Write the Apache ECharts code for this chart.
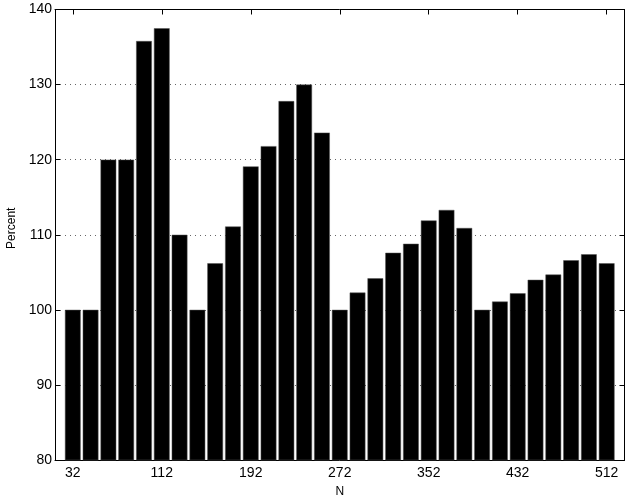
<!DOCTYPE html>
<html>
<head>
<meta charset="utf-8">
<script src="https://cdn.jsdelivr.net/npm/echarts@6/dist/echarts.min.js"></script>
<style>
html,body{margin:0;padding:0;background:#fff;}
#c{width:625px;height:497px;}
</style>
</head>
<body>
<div id="c"></div>
<script>
const nValues = [32,48,64,80,96,112,128,144,160,176,192,208,224,240,256,272,288,304,320,336,352,368,384,400,416,432,448,464,480,496,512];
const percent = [100,100,120,120,135.8,137.5,110,100,106.2,111.1,119.1,121.8,127.8,130,123.6,100,102.3,104.2,107.6,108.8,111.9,113.3,110.9,100,101.1,102.2,104,104.7,106.6,107.4,106.2];
const xTicks = [32,112,192,272,352,432,512];
const yTicks = [80,90,100,110,120,130,140];

const font = 'Liberation Sans, Arial, Helvetica, sans-serif';
const chart = echarts.init(document.getElementById('c'), null, {renderer:'canvas'});
const axisLineStyle = {color:'#000', width:1};
chart.setOption({
  animation:false,
  backgroundColor:'#fff',
  grid:{left:55, right:0.5, top:9.5, bottom:37, containLabel:false, outerBoundsMode:'none'},
  xAxis:[{
    type:'value', min:16, max:528, position:'bottom',
    name:'N', nameLocation:'middle', nameGap:26,
    nameTextStyle:{color:'#000', fontSize:12, fontFamily:font},
    axisLine:{show:true, onZero:false, lineStyle:axisLineStyle},
    axisTick:{show:true, inside:true, length:5, customValues:xTicks, lineStyle:axisLineStyle},
    axisLabel:{show:true, customValues:xTicks, color:'#000', fontSize:14, fontFamily:font, margin:6},
    splitLine:{show:false}
  },{
    type:'value', min:16, max:528, position:'top',
    axisLine:{show:true, onZero:false, lineStyle:axisLineStyle},
    axisTick:{show:true, inside:true, length:5, customValues:xTicks, lineStyle:axisLineStyle},
    axisLabel:{show:false, customValues:xTicks},
    splitLine:{show:false}
  }],
  yAxis:[{
    type:'value', min:80, max:140, interval:10, position:'left',
    name:'Percent', nameLocation:'middle', nameGap:29,
    nameTextStyle:{color:'#000', fontSize:12, fontFamily:font, padding:[0,0,0,13]},
    axisLine:{show:true, onZero:false, lineStyle:axisLineStyle},
    axisTick:{show:true, inside:true, length:5, lineStyle:axisLineStyle},
    axisLabel:{color:'#000', fontSize:14, fontFamily:font, margin:3},
    splitLine:{show:true, lineStyle:{color:'#666', type:[1,4], width:1}}
  },{
    type:'value', min:80, max:140, interval:10, position:'right',
    axisLine:{show:true, onZero:false, lineStyle:axisLineStyle},
    axisTick:{show:true, inside:true, length:5, lineStyle:axisLineStyle},
    axisLabel:{show:false},
    splitLine:{show:false}
  }],
  series:[{
    type:'bar',
    xAxisIndex:0, yAxisIndex:0,
    data: nValues.map((n,i)=>[n, percent[i]]),
    barWidth:15.7,
    itemStyle:{color:'#000', borderColor:'#555', borderWidth:0.5},
    z:3
  }]
});
</script>
</body>
</html>
